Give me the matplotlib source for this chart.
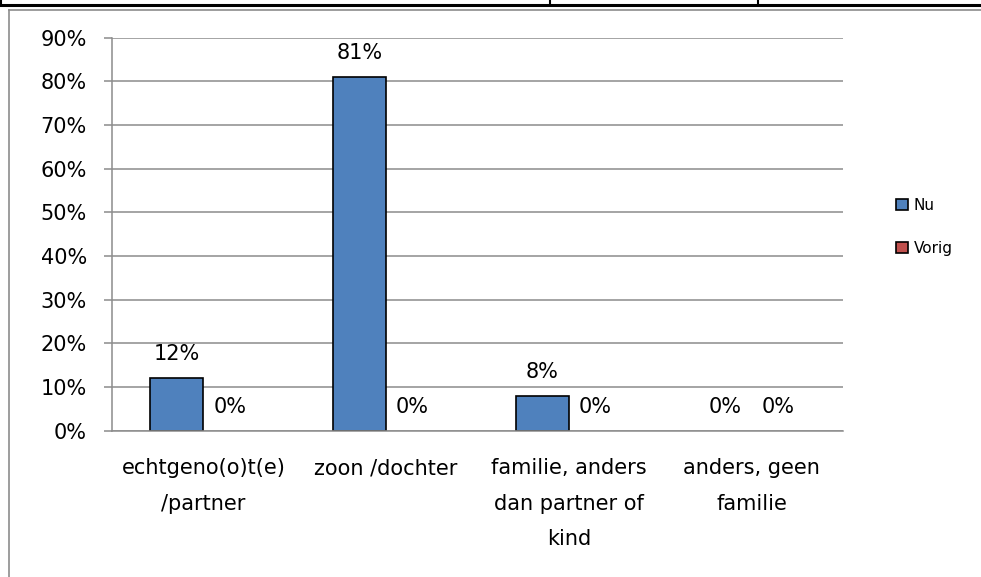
import matplotlib
matplotlib.use("Agg")
import matplotlib.pyplot as plt
from matplotlib.lines import Line2D
from matplotlib.patches import Patch
import numpy as np

categories = ["echtgeno(o)t(e)\n/partner", "zoon /dochter",
              "familie, anders\ndan partner of\nkind", "anders, geen\nfamilie"]
nu = [12, 81, 8, 0]
vorig = [0, 0, 0, 0]
series_names = ["Nu", "Vorig"]
yticks = [0, 10, 20, 30, 40, 50, 60, 70, 80, 90]

W, H = 981, 577
fig = plt.figure(figsize=(W / 100, H / 100), dpi=100)
plt.rcParams['font.family'] = ['DejaVu Sans']

ax_l, ax_r, ax_t, ax_b = 112, 843, 37.5, 430.7
ax = fig.add_axes([ax_l / W, 1 - ax_b / H, (ax_r - ax_l) / W, (ax_b - ax_t) / H])

x = np.arange(len(categories))
bw = 0.29
c_nu = "#4F81BD"
c_vo = "#C0504D"
b1 = ax.bar(x - bw / 2, nu, bw, color=c_nu, edgecolor="black",
            linewidth=[1.2 if v > 0 else 0 for v in nu], zorder=3)
b2 = ax.bar(x + bw / 2, vorig, bw, color=c_vo, edgecolor="black",
            linewidth=[1.2 if v > 0 else 0 for v in vorig], zorder=3)

for bars, vals in ((b1, nu), (b2, vorig)):
    for r, v in zip(bars, vals):
        ax.annotate(f"{v}%", (r.get_x() + r.get_width() / 2, v),
                    xytext=(0, 10), textcoords="offset points",
                    ha="center", va="bottom", fontsize=15, color="black")

ax.set_xlim(-0.5, len(categories) - 0.5)
ax.set_ylim(0, 90)
ax.set_yticks(yticks)
ax.set_yticklabels([f"{t}%" for t in yticks], fontsize=15)
ax.yaxis.grid(True, color="#8c8c8c", linewidth=1.1, zorder=0)
ax.set_axisbelow(True)
ax.tick_params(axis="y", length=6, width=1.1, color="#8c8c8c", pad=12)
ax.set_xticks(x)
ax.set_xticklabels(categories, fontsize=15, linespacing=1.95)
ax.tick_params(axis="x", length=0, pad=20)
for s in ("top", "right"):
    ax.spines[s].set_visible(False)
ax.spines["left"].set_color("#8c8c8c")
ax.spines["left"].set_linewidth(1.1)
ax.spines["bottom"].set_color("#8c8c8c")
ax.spines["bottom"].set_linewidth(1.1)
ax.spines["bottom"].set_zorder(4)

handles = [Patch(facecolor=c_nu, edgecolor="black", linewidth=1.2),
           Patch(facecolor=c_vo, edgecolor="black", linewidth=1.2)]
fig.legend(handles, series_names, loc="upper left",
           bbox_to_anchor=(890 / W, 1 - 192 / H), frameon=False,
           fontsize=11, handlelength=0.75, handleheight=0.75,
           handletextpad=0.4, labelspacing=1.8, borderaxespad=0)

def fl(x0, y0, x1, y1, color, lw):
    fig.add_artist(Line2D([x0 / W, x1 / W], [1 - y0 / H, 1 - y1 / H],
                          color=color, linewidth=lw, transform=fig.transFigure))

# chart frame
fl(9, 10, W, 10, "#8c8c8c", 1.2)
fl(9, 10, 9, H, "#8c8c8c", 1.2)
# table lines above
fl(0, 5, W, 5, "black", 2.2)
for xv in (1, 550, 758):
    fl(xv, 0, xv, 5, "black", 1.5)

fig.savefig("out.png", dpi=100)
